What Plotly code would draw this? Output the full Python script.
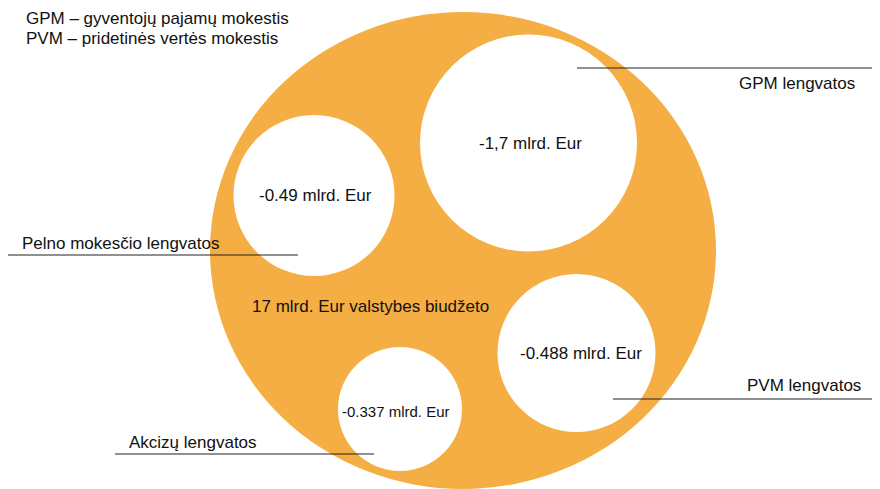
import plotly.graph_objects as go

# ---- data ----
categories = ["GPM lengvatos", "Pelno mokesčio lengvatos", "PVM lengvatos", "Akcizų lengvatos"]
amount_labels = ["-1,7 mlrd. Eur", "-0.49 mlrd. Eur", "-0.488 mlrd. Eur", "-0.337 mlrd. Eur"]
amounts = [-1.7, -0.49, -0.488, -0.337]
total_label = "17 mlrd. Eur valstybes biudžeto"
total = 17
legend_lines = ["GPM – gyventojų pajamų mokestis", "PVM – pridetinės vertės mokestis"]

# ---- layout geometry (page pixel space; page body has an 8px margin) ----
W, H = 880, 489
OFF = 8
big = dict(x0=210, x1=716, y0=12, y1=489)
holes = [  # cx, cy, r
    (528.5, 143, 108.5),
    (314, 195.5, 80.5),
    (576.5, 353, 79),
    (400, 409, 62),
]
hole_text = [(530, 143, 17), (315, 195, 17), (581, 353, 17), (396, 411, 15)]
cat_text = [(737, 83, "left"), (20, 243, "left"), (745, 385, "left"), (127, 442, "left")]
leader = [(577, 880, 68), (8, 298, 255), (613, 873, 399), (115, 374, 454)]
orange = "#F5AE43"
font = "Liberation Sans, Arial, sans-serif"

fig = go.Figure()
fig.add_trace(go.Scatter(x=[OFF + 1], y=[OFF + 1], mode="markers", marker=dict(opacity=0),
                         hoverinfo="skip", showlegend=False))

shapes = []
shapes.append(dict(type="circle", xref="x", yref="y", fillcolor=orange, line=dict(width=0), layer="below", **big))
for cx, cy, r in holes:
    shapes.append(dict(type="circle", xref="x", yref="y", x0=cx - r, x1=cx + r, y0=cy - r, y1=cy + r,
                       fillcolor="white", line=dict(width=0), layer="below"))
for x0, x1, y in leader:
    shapes.append(dict(type="line", xref="x", yref="y", x0=x0, x1=x1, y0=y, y1=y,
                       line=dict(color="#222222", width=1.2)))

ann = []
for (x, y, s), t in zip(hole_text, amount_labels):
    ann.append(dict(x=x, y=y, text=t, showarrow=False, xanchor="center", yanchor="middle",
                    font=dict(size=s, color="#111111", family=font)))
for (x, y, a), t in zip(cat_text, categories):
    ann.append(dict(x=x, y=y, text=t, showarrow=False, xanchor=a, yanchor="middle",
                    font=dict(size=17, color="#111111", family=font)))
ann.append(dict(x=370, y=306, text=total_label, showarrow=False, xanchor="center", yanchor="middle",
                font=dict(size=17, color="#111111", family=font)))
for i, t in enumerate(legend_lines):
    ann.append(dict(x=24, y=18 + 20 * i, text=t, showarrow=False, xanchor="left", yanchor="middle",
                    font=dict(size=17, color="#111111", family=font)))

fig.update_layout(
    width=W - OFF, height=H - OFF, margin=dict(l=0, r=0, t=0, b=0),
    paper_bgcolor="white", plot_bgcolor="white",
    xaxis=dict(range=[OFF, W], visible=False, fixedrange=True),
    yaxis=dict(range=[H, OFF], visible=False, fixedrange=True),
    shapes=shapes, annotations=ann, showlegend=False,
)
fig.write_html("out.html")
